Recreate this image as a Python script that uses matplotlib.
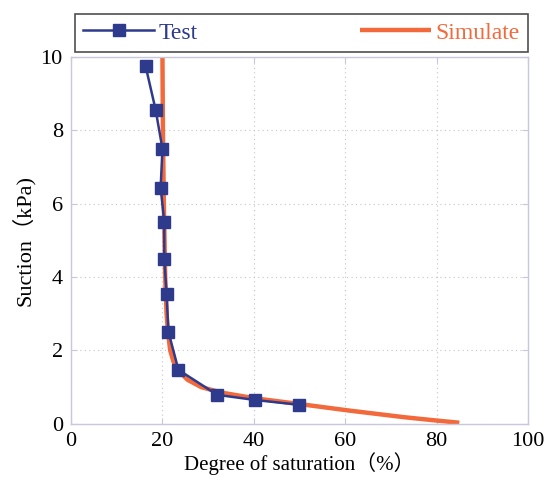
import matplotlib
matplotlib.use("Agg")
import matplotlib.pyplot as plt

# Test data (degree of saturation %, suction kPa)
test_sat = [16.3, 18.5, 20.0, 19.6, 20.4, 20.4, 20.9, 21.3, 23.5, 32.0, 40.3, 49.9]
test_suc = [9.75, 8.56, 7.49, 6.43, 5.50, 4.50, 3.54, 2.51, 1.47, 0.79, 0.65, 0.52]

# Simulated curve
sim_sat = [20.0, 20.1, 20.3, 20.6, 20.9, 21.2, 21.7, 22.4, 23.5, 25.5, 28.5, 33.0, 40.0, 50.0, 61.0, 73.0, 80.0, 85.0]
sim_suc = [10.0, 8.0, 6.0, 4.0, 3.0, 2.5, 2.0, 1.7, 1.45, 1.2, 1.0, 0.85, 0.7, 0.54, 0.36, 0.18, 0.09, 0.03]

xticks = [0, 20, 40, 60, 80, 100]
yticks = [0, 2, 4, 6, 8, 10]

blue = "#2e3a8c"
orange = "#f26a3c"
serif = ["Liberation Serif", "Noto Sans CJK SC"]
plt.rcParams["font.family"] = serif

fig = plt.figure(figsize=(5.47, 4.94), dpi=100)
ax = fig.add_axes([0.130, 0.142, 0.835, 0.743])

ax.plot(sim_sat, sim_suc, color=orange, lw=3.2, label="Simulate", zorder=2, solid_capstyle="butt")
ax.plot(test_sat, test_suc, color=blue, lw=1.8, marker="s", ms=9, label="Test", zorder=3)

ax.set_xlim(0, 100)
ax.set_ylim(0, 10)
ax.set_xticks(xticks)
ax.set_yticks(yticks)
ax.tick_params(axis="both", labelsize=16, direction="in", length=4, color="#c8c8dc",
               top=True, right=True, pad=6)
for s in ax.spines.values():
    s.set_color("#c8c8dc")
    s.set_linewidth(1.0)
ax.grid(True, linestyle=(0, (1, 3)), color="#c4c4c4", linewidth=0.8)

ax.set_xlabel("Degree of saturation（%）", fontsize=15, labelpad=1)
ax.set_ylabel("Suction（kPa)", fontsize=16, labelpad=4)

handles, labels = ax.get_legend_handles_labels()
order = [1, 0]
leg = fig.legend([handles[i] for i in order], [labels[i] for i in order],
                 loc="lower left", bbox_to_anchor=(0.137, 0.895, 0.828, 0.089),
                 mode="expand", ncol=2, fontsize=17, frameon=True, fancybox=False,
                 edgecolor="#222222", borderaxespad=0, handlelength=3.0,
                 handletextpad=0.2, borderpad=0.35)
leg.get_frame().set_linewidth(1.2)
texts = leg.get_texts()
texts[0].set_color(blue)
texts[1].set_color(orange)

fig.savefig("out.png", dpi=100)
